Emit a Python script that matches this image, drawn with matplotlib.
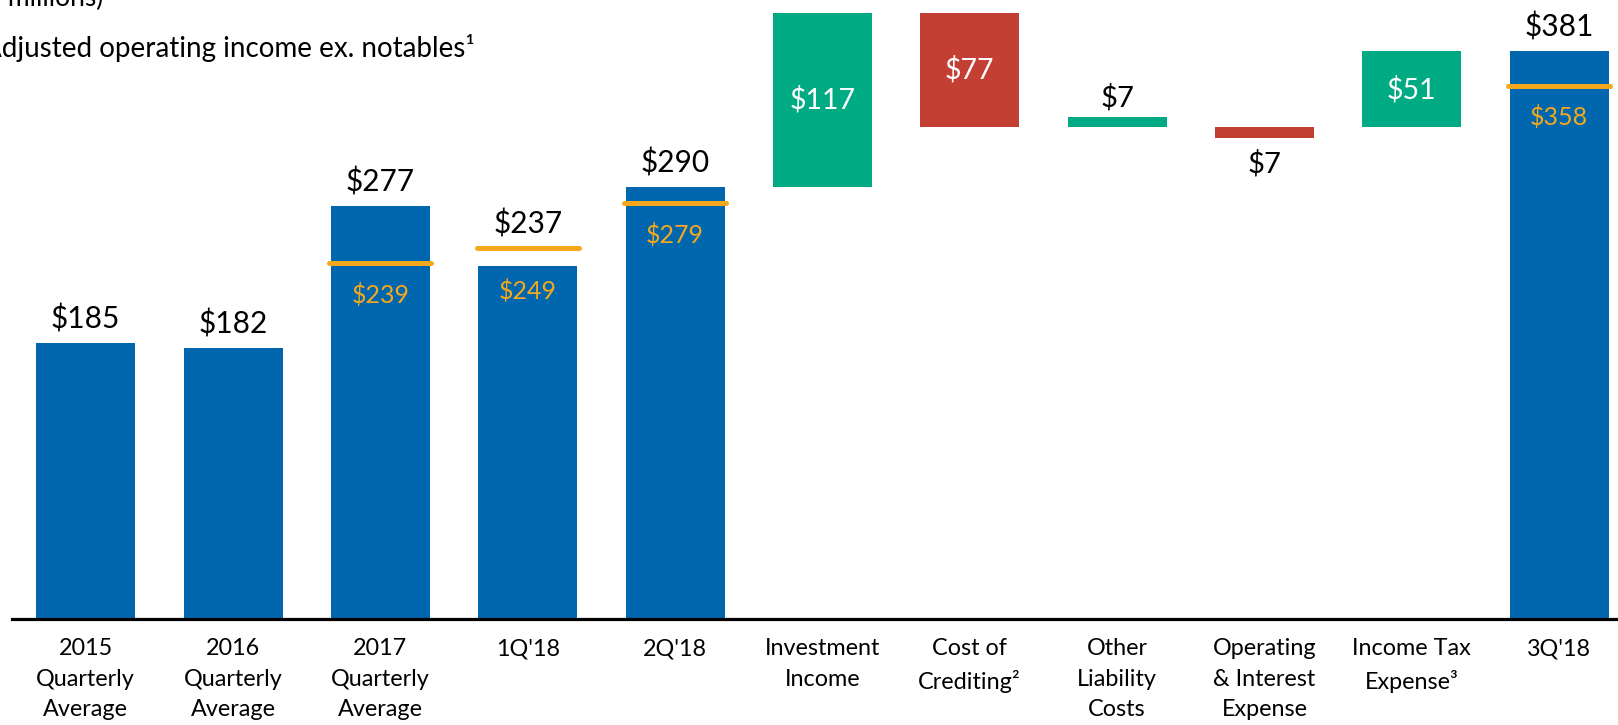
import matplotlib.pyplot as plt

plt.rcParams['font.family'] = ['Lato', 'DejaVu Sans']

blue = '#0066AD'
green = '#00AB84'
red = '#C33F33'
orange = '#F5A81C'

categories = ["2015\nQuarterly\nAverage", "2016\nQuarterly\nAverage", "2017\nQuarterly\nAverage",
              "1Q'18", "2Q'18", "Investment\nIncome", "Cost of\nCrediting²", "Other\nLiability\nCosts",
              "Operating\n& Interest\nExpense", "Income Tax\nExpense³", "3Q'18"]

# reported quarterly bars (positions 0-4 and 10)
reported_pos = [0, 1, 2, 3, 4, 10]
reported = [185, 182, 277, 237, 290, 381]
# adjusted operating income ex. notables (orange line)
notable_pos = [2, 3, 4, 10]
ex_notables = [239, 249, 279, 358]

# waterfall steps between 2Q'18 and 3Q'18
step_pos = [5, 6, 7, 8, 9]
step_start = [290, 407, 330, 330, 330]
step_delta = [117, -77, 7, -7, 51]

fig = plt.figure(figsize=(16.18, 7.25), dpi=100)
ax = fig.add_axes([0.0077, 0.1462, 0.9923, 0.8538])
w = 0.672

ax.bar(reported_pos, reported, width=w, color=blue)
for x, v in zip(reported_pos, reported):
    top = v
    if x in notable_pos:
        top = max(v, ex_notables[notable_pos.index(x)])
    ax.annotate(f"${v}", (x, top), xytext=(0, 7), textcoords='offset points',
                ha='center', va='bottom', fontsize=21.5, color='black')

for x, v in zip(notable_pos, ex_notables):
    ax.hlines(v, x - w / 2 - 0.01, x + w / 2 + 0.01, color=orange, lw=3.6, capstyle='round')
    rep = reported[reported_pos.index(x)]
    if v < rep:
        ref, off = v, -23
    else:
        ref, off = rep, -18
    ax.annotate(f"${v}", (x, ref), xytext=(0, off), textcoords='offset points',
                ha='center', va='center', fontsize=18, color=orange)

for x, s, d in zip(step_pos, step_start, step_delta):
    col = green if d > 0 else red
    ax.bar(x, d, bottom=s, width=w, color=col)
    lo, hi = min(s, s + d), max(s, s + d)
    if abs(d) > 20:
        ax.text(x, (lo + hi) / 2, f"${abs(d)}", ha='center', va='center', fontsize=20.5, color='white')
    elif d > 0:
        ax.annotate(f"${abs(d)}", (x, hi), xytext=(0, 4), textcoords='offset points',
                    ha='center', va='bottom', fontsize=21, color='black')
    else:
        ax.annotate(f"${abs(d)}", (x, lo), xytext=(0, -9), textcoords='offset points',
                    ha='center', va='top', fontsize=21, color='black')

ax.axhline(0, color='black', lw=2.3, clip_on=False)
ax.set_xlim(-0.497, 10.40)
ax.set_ylim(0, 415.4)
ax.set_xticks(range(len(categories)))
ax.set_xticklabels(categories, fontsize=16.8, linespacing=1.55)
ax.tick_params(axis='x', length=0, pad=14)
ax.set_yticks([])
for sp in ax.spines.values():
    sp.set_visible(False)

fig.text(0.064, 1 - 6 / 725, "(in millions)", ha='right', va='baseline', fontsize=19)
fig.text(0.2935, 1 - 57 / 725, "Adjusted operating income ex. notables¹", ha='right',
         va='baseline', fontsize=20)

fig.savefig('out.png', dpi=100)
